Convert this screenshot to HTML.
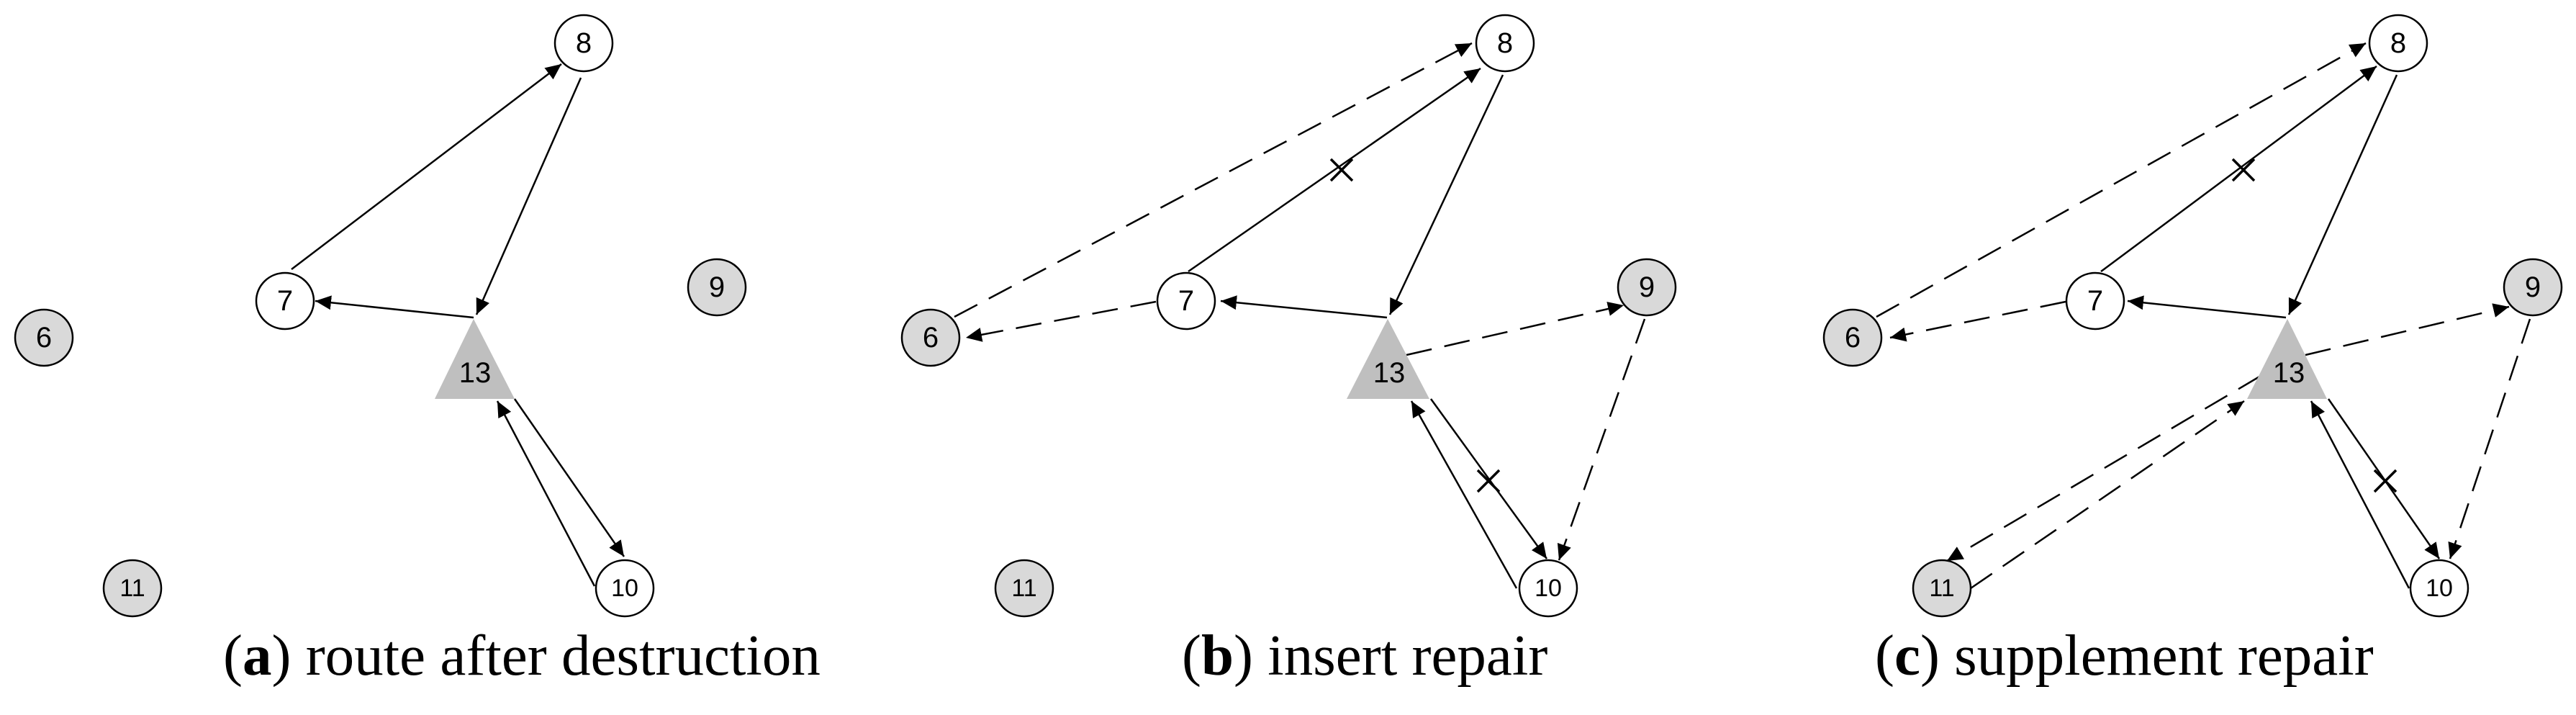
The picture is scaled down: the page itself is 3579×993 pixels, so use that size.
<!DOCTYPE html>
<html><head><meta charset="utf-8"><style>
html,body{margin:0;padding:0;background:#fff;}
svg{display:block}
.n{stroke:#000;stroke-width:2.5}
.w{fill:#fff}.g{fill:#d9d9d9}
.l{font-family:"Liberation Sans",sans-serif;font-size:40px;text-anchor:middle;dominant-baseline:central;fill:#000}
.e{stroke:#000;stroke-width:2.5;fill:none}
.x{stroke:#000;stroke-width:3.5;fill:none}
.d{stroke-dasharray:36 18}
.cap{font-family:"Liberation Serif",serif;font-size:81px;fill:#000}
</style></head><body>
<svg width="3579" height="993" viewBox="0 0 3579 993" xmlns="http://www.w3.org/2000/svg">
<defs>
<marker id="m" markerWidth="24" markerHeight="20" refX="22" refY="10" orient="auto" markerUnits="userSpaceOnUse">
<path d="M0,0 L22,10 L0,20 z" fill="#000"/>
</marker>
</defs>

<!-- Panel a -->
<g>
<line class="e" x1="405" y1="374" x2="780" y2="89" marker-end="url(#m)"/>
<line class="e" x1="807" y1="108" x2="662" y2="437" marker-end="url(#m)"/>
<line class="e" x1="658" y1="441" x2="438" y2="418" marker-end="url(#m)"/>
<line class="e" x1="715" y1="554" x2="867" y2="773" marker-end="url(#m)"/>
<line class="e" x1="826" y1="814" x2="691" y2="557" marker-end="url(#m)"/>
<polygon points="658,443 604,554 715,554" fill="#bfbfbf"/>
<text class="l" x="660" y="518">13</text>
<ellipse class="n w" cx="811" cy="60" rx="40" ry="39"/><text class="l" x="811" y="60">8</text>
<ellipse class="n w" cx="396" cy="418" rx="40" ry="39"/><text class="l" x="396" y="418">7</text>
<ellipse class="n g" cx="996" cy="399" rx="40" ry="39"/><text class="l" x="996" y="399">9</text>
<ellipse class="n g" cx="61" cy="469" rx="40" ry="39"/><text class="l" x="61" y="469">6</text>
<ellipse class="n g" cx="184" cy="817" rx="40" ry="39"/><text class="l" x="184" y="817" style="font-size:34px">11</text>
<ellipse class="n w" cx="868" cy="817" rx="40" ry="39"/><text class="l" x="868" y="817" style="font-size:34px">10</text>
<text class="cap" x="310" y="937">(<tspan font-weight="bold">a</tspan>) route after destruction</text>
</g>

<!-- Panel b -->
<g>
<line class="e d" x1="1326" y1="440" x2="2045" y2="60" marker-end="url(#m)"/>
<line class="e" x1="1651" y1="377" x2="2057" y2="95" marker-end="url(#m)"/>
<line class="x" x1="1849" y1="221" x2="1879" y2="251"/><line class="x" x1="1879" y1="221" x2="1849" y2="251"/>
<line class="e" x1="2088" y1="104" x2="1931" y2="437" marker-end="url(#m)"/>
<line class="e" x1="1927" y1="441" x2="1696" y2="418" marker-end="url(#m)"/>
<line class="e d" x1="1606" y1="419" x2="1342" y2="469" marker-end="url(#m)"/>
<line class="e d" x1="1954" y1="493" x2="2256" y2="424" marker-end="url(#m)"/>
<line class="e d" x1="2285" y1="443" x2="2166" y2="778" marker-end="url(#m)"/>
<line class="e" x1="1988" y1="554" x2="2149" y2="776" marker-end="url(#m)"/>
<line class="x" x1="2053" y1="653" x2="2083" y2="683"/><line class="x" x1="2083" y1="653" x2="2053" y2="683"/>
<line class="e" x1="2107" y1="817" x2="1961" y2="557" marker-end="url(#m)"/>
<polygon points="1928,443 1871,554 1986,554" fill="#bfbfbf"/>
<text class="l" x="1930" y="518">13</text>
<ellipse class="n w" cx="2091" cy="60" rx="40" ry="39"/><text class="l" x="2091" y="60">8</text>
<ellipse class="n w" cx="1648" cy="418" rx="40" ry="39"/><text class="l" x="1648" y="418">7</text>
<ellipse class="n g" cx="2288" cy="399" rx="40" ry="39"/><text class="l" x="2288" y="399">9</text>
<ellipse class="n g" cx="1293" cy="469" rx="40" ry="39"/><text class="l" x="1293" y="469">6</text>
<ellipse class="n g" cx="1423" cy="817" rx="40" ry="39"/><text class="l" x="1423" y="817" style="font-size:34px">11</text>
<ellipse class="n w" cx="2151" cy="817" rx="40" ry="39"/><text class="l" x="2151" y="817" style="font-size:34px">10</text>
<text class="cap" x="1642" y="937">(<tspan font-weight="bold">b</tspan>) insert repair</text>
</g>

<!-- Panel c -->
<g>
<line class="e d" x1="2607" y1="440" x2="3287" y2="60" marker-end="url(#m)"/>
<line class="e" x1="2919" y1="377" x2="3302" y2="92" marker-end="url(#m)"/>
<line class="x" x1="3102" y1="221" x2="3132" y2="251"/><line class="x" x1="3132" y1="221" x2="3102" y2="251"/>
<line class="e" x1="3330" y1="104" x2="3180" y2="437" marker-end="url(#m)"/>
<line class="e" x1="3176" y1="441" x2="2956" y2="418" marker-end="url(#m)"/>
<line class="e d" x1="2870" y1="419" x2="2626" y2="469" marker-end="url(#m)"/>
<line class="e d" x1="3203" y1="493" x2="3486" y2="426" marker-end="url(#m)"/>
<line class="e d" x1="3515" y1="443" x2="3404" y2="776" marker-end="url(#m)"/>
<line class="e" x1="3235" y1="554" x2="3389" y2="776" marker-end="url(#m)"/>
<line class="x" x1="3299" y1="653" x2="3329" y2="683"/><line class="x" x1="3329" y1="653" x2="3299" y2="683"/>
<line class="e" x1="3347" y1="817" x2="3211" y2="557" marker-end="url(#m)"/>
<line class="e d" x1="3141" y1="522" x2="2705" y2="779" marker-end="url(#m)"/>
<line class="e d" x1="2738" y1="817" x2="3118" y2="557" marker-end="url(#m)"/>
<polygon points="3178,443 3122,554 3233,554" fill="#bfbfbf"/>
<text class="l" x="3180" y="518">13</text>
<ellipse class="n w" cx="3332" cy="60" rx="40" ry="39"/><text class="l" x="3332" y="60">8</text>
<ellipse class="n w" cx="2911" cy="418" rx="40" ry="39"/><text class="l" x="2911" y="418">7</text>
<ellipse class="n g" cx="3519" cy="399" rx="40" ry="39"/><text class="l" x="3519" y="399">9</text>
<ellipse class="n g" cx="2574" cy="469" rx="40" ry="39"/><text class="l" x="2574" y="469">6</text>
<ellipse class="n g" cx="2698" cy="817" rx="40" ry="39"/><text class="l" x="2698" y="817" style="font-size:34px">11</text>
<ellipse class="n w" cx="3389" cy="817" rx="40" ry="39"/><text class="l" x="3389" y="817" style="font-size:34px">10</text>
<text class="cap" x="2605" y="937">(<tspan font-weight="bold">c</tspan>) supplement repair</text>
</g>
</svg>
</body></html>
